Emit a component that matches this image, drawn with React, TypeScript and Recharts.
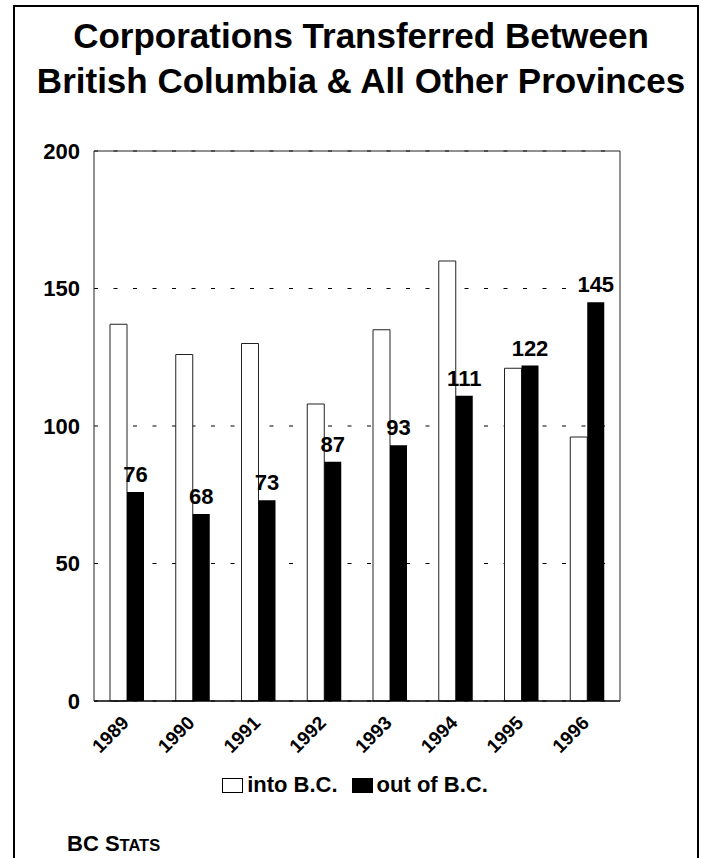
import React from "react";
import { Bar, BarChart, CartesianGrid, LabelList, XAxis, YAxis } from "recharts";

const years = ["1989", "1990", "1991", "1992", "1993", "1994", "1995", "1996"];
const intoBC = [137, 126, 130, 108, 135, 160, 121, 96];
const outOfBC = [76, 68, 73, 87, 93, 111, 122, 145];
const yTicks = [0, 50, 100, 150, 200];
const seriesNames = ["into B.C.", "out of B.C."];
const titleLines = ["Corporations Transferred Between", "British Columbia & All Other Provinces"];

const data = years.map((year, i) => ({ year, into: intoBC[i], out: outOfBC[i] }));

const FONT = '"Liberation Sans", Arial, Helvetica, sans-serif';

function YearTick({ x, y, payload }: any) {
  return (
    <g transform={`translate(${x + 3},${y + 23})`}>
      <text
        textAnchor="end"
        transform="rotate(-45)"
        style={{ fontSize: 19, fontWeight: "bold", fontFamily: FONT }}
        fill="#000"
      >
        {payload.value}
      </text>
    </g>
  );
}

function LegendBox({ fill }: { fill: string }) {
  return (
    <span
      style={{
        display: "inline-block",
        width: 19,
        height: 13,
        background: fill,
        border: "1px solid #000",
        marginRight: 4,
      }}
    />
  );
}

export default function App() {
  return (
    <div
      style={{
        position: "absolute",
        left: 0,
        top: 0,
        width: 703,
        height: 858,
        background: "#fff",
        overflow: "hidden",
        fontFamily: FONT,
        fontWeight: "bold",
        color: "#000",
      }}
    >
      <div
        style={{
          position: "absolute",
          left: 13,
          top: 5,
          width: 682,
          height: 900,
          border: "2px solid #000",
        }}
      />
      <div
        style={{
          position: "absolute",
          left: 11,
          top: 13,
          width: 700,
          textAlign: "center",
          fontSize: 35,
          lineHeight: "45px",
        }}
      >
        {titleLines.map((t) => (
          <div key={t}>{t}</div>
        ))}
      </div>

      <div style={{ position: "absolute", left: 0, top: 0 }}>
        <BarChart
          width={703}
          height={858}
          data={data}
          margin={{ top: 150, right: 82, bottom: 127, left: 0 }}
          barGap={0}
          barSize={17}
        >
          <CartesianGrid vertical={false} stroke="#000" strokeDasharray="4 15.5" />
          <XAxis
            dataKey="year"
            interval={0}
            tickLine={false}
            tickSize={0}
            tickMargin={0}
            height={30}
            axisLine={{ stroke: "#000", strokeWidth: 1.5 }}
            tick={<YearTick />}
          />
          <XAxis
            xAxisId="top"
            dataKey="year"
            orientation="top"
            height={1}
            tick={false}
            tickLine={false}
            axisLine={{ stroke: "#222" }}
          />
          <YAxis
            domain={[0, 200]}
            ticks={yTicks}
            width={94}
            tickLine={false}
            tickSize={0}
            tickMargin={14}
            axisLine={{ stroke: "#222" }}
            tick={{ fontSize: 22, fontWeight: "bold", fill: "#000", fontFamily: FONT }}
          />
          <YAxis
            yAxisId="right"
            orientation="right"
            domain={[0, 200]}
            width={1}
            tick={false}
            tickLine={false}
            axisLine={{ stroke: "#222" }}
          />
          <Bar dataKey="into" name={seriesNames[0]} fill="#fff" stroke="#222" strokeWidth={1} isAnimationActive={false} />
          <Bar dataKey="out" name={seriesNames[1]} fill="#000" isAnimationActive={false}>
            <LabelList
              dataKey="out"
              position="top"
              offset={10}
              fontSize={22}
              fontWeight="bold"
              fontFamily={FONT}
              fill="#000"
            />
          </Bar>
        </BarChart>
      </div>

      <div
        style={{
          position: "absolute",
          left: 0,
          top: 773,
          width: 710,
          display: "flex",
          justifyContent: "center",
          alignItems: "center",
          fontSize: 22,
          lineHeight: "24px",
        }}
      >
        <LegendBox fill="#fff" />
        <span style={{ marginRight: 14 }}>{seriesNames[0]}</span>
        <LegendBox fill="#000" />
        <span>{seriesNames[1]}</span>
      </div>

      <div style={{ position: "absolute", left: 67, top: 831, fontSize: 22, lineHeight: "26px" }}>
        BC S<span style={{ fontSize: 16.5 }}>TATS</span>
      </div>
    </div>
  );
}
